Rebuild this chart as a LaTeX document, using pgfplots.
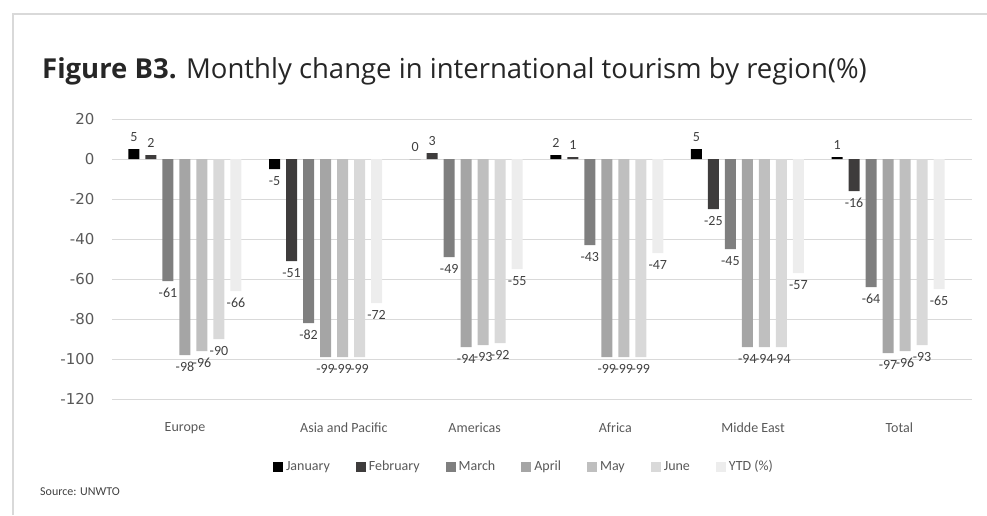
\documentclass[border=0pt]{standalone}
\usepackage{fontspec}
\setmainfont{Carlito}
\newfontfamily\titlefont{Open Sans}
\newfontfamily\numfont{DejaVu Sans}
\usepackage{pgfplots}
\pgfplotsset{compat=1.18}

\definecolor{cJan}{HTML}{000000}
\definecolor{cFeb}{HTML}{3E3C3C}
\definecolor{cMar}{HTML}{7F7F7F}
\definecolor{cApr}{HTML}{A5A5A5}
\definecolor{cMay}{HTML}{BFBFBF}
\definecolor{cJun}{HTML}{D9D9D9}
\definecolor{cYTD}{HTML}{EDEDED}
\definecolor{labelgrey}{HTML}{404040}
\definecolor{tickgrey}{HTML}{595959}

\begin{document}
\begin{tikzpicture}
\path[use as bounding box] (0pt,0pt) rectangle (987pt,-515pt);
\draw[black!15, line width=1.2pt] (13pt,-515pt) -- (13pt,-14pt) -- (987pt,-14pt);
\node[anchor=base west, inner sep=0pt, font=\titlefont\fontsize{27.5}{31}\selectfont, text=black!85]
  at (42pt,-78pt) {\textbf{Figure B3.} Monthly change in international tourism by region(\%)};
\node[anchor=west, inner sep=0pt, font=\fontsize{12}{14}\selectfont, text=labelgrey]
  at (40pt,-492pt) {Source: UNWTO};

\begin{axis}[
    at={(112pt,-119pt)}, anchor=north west,
    scale only axis, width=860pt, height=280pt,
    ybar=6pt, bar width=11pt,
    xmin=-0.519, xmax=5.597,
    ymin=-120, ymax=20, ytick={-120,-100,...,20},
    xtick={0,1.13,2.06,3.06,4.04,5.08},
    xticklabels={Europe, Asia and Pacific, Americas, Africa, Midde East, Total},
    axis line style={draw=none},
    major tick length=0pt,
    ymajorgrids, grid style={black!15, line width=0.9pt},
    /pgf/number format/assume math mode=true,
    yticklabel style={font=\numfont\fontsize{15}{18}\selectfont, text=tickgrey, xshift=-14pt},
    xticklabel style={font=\fontsize{14}{16}\selectfont, text=tickgrey, yshift=-20pt},
    nodes near coords,
    nodes near coords align={vertical},
    every node near coord/.append style={font=\fontsize{14}{17}\selectfont, text=labelgrey,
        inner xsep=1pt, inner ysep=7pt},
    legend columns=-1,
    legend style={at={(0.479,-0.246)}, anchor=center, draw=none,
        font=\fontsize{14}{16}\selectfont, text=tickgrey,
        nodes={text height=0.7em, text depth=0.25em},
        /tikz/every odd column/.append style={column sep=1pt},
        /tikz/every even column/.append style={column sep=24pt}},
    legend image code/.code={\fill[#1, draw=none] (0pt,-4pt) rectangle (10pt,6pt);},
]
\addplot[fill=cJan, draw=none] coordinates {(0,5) (1,-5) (2,0) (3,2) (4,5) (5,1)};
\addlegendentry{January}
\addplot[fill=cFeb, draw=none] coordinates {(0,2) (1,-51) (2,3) (3,1) (4,-25) (5,-16)};
\addlegendentry{February}
\addplot[fill=cMar, draw=none] coordinates {(0,-61) (1,-82) (2,-49) (3,-43) (4,-45) (5,-64)};
\addlegendentry{March}
\addplot[fill=cApr, draw=none] coordinates {(0,-98) (1,-99) (2,-94) (3,-99) (4,-94) (5,-97)};
\addlegendentry{April}
\addplot[fill=cMay, draw=none] coordinates {(0,-96) (1,-99) (2,-93) (3,-99) (4,-94) (5,-96)};
\addlegendentry{May}
\addplot[fill=cJun, draw=none] coordinates {(0,-90) (1,-99) (2,-92) (3,-99) (4,-94) (5,-93)};
\addlegendentry{June}
\addplot[fill=cYTD, draw=none] coordinates {(0,-66) (1,-72) (2,-55) (3,-47) (4,-57) (5,-65)};
\addlegendentry{YTD (\%)}
\end{axis}
\end{tikzpicture}
\end{document}
